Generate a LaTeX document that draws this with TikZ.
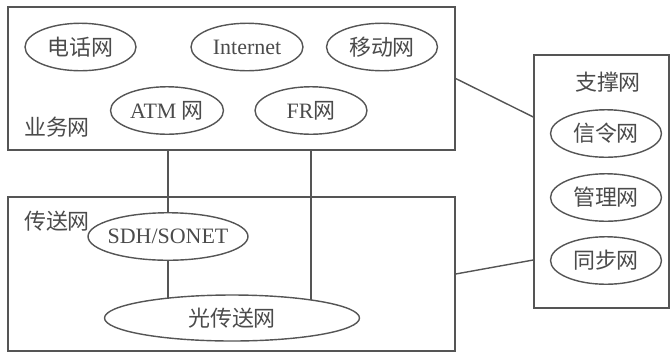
\documentclass[tikz,border=0pt]{standalone}
\usepackage{fontspec}
\setmainfont{Liberation Serif}
\newfontfamily\cjk{Noto Sans CJK SC}
\usetikzlibrary{shapes.geometric, backgrounds}
\definecolor{linegray}{RGB}{85,85,85}
\definecolor{textgray}{RGB}{75,75,75}

\begin{document}
\begin{tikzpicture}[x=0.02cm, y=-0.02cm,
    every node/.style={font=\fontsize{12.5}{15}\selectfont, text=textgray},
    net/.style={draw=linegray, ellipse, line width=0.8pt, fill=white, inner sep=0pt, minimum width=2.22cm, minimum height=0.95cm},
    area/.style={draw=linegray, line width=0.8pt, inner sep=0pt},
    link/.style={draw=linegray, line width=0.8pt}]
        \useasboundingbox (0,0) rectangle (672,356);

        % Outer boxes
        \node[area, minimum width=8.94cm, minimum height=2.86cm] (svc) at (231.5,78.5) {};
        \node[area, minimum width=8.94cm, minimum height=3.08cm] (trans) at (231.5,274) {};
        \node[area, minimum width=2.7cm, minimum height=5.06cm] (sup) at (601.5,181.5) {};

        % Box labels
        \node (svclbl) at (57,127) {\cjk 业务网};
        \node (translbl) at (57,221) {\cjk 传送网};
        \node (suplbl) at (608,82) {\cjk 支撑网};

        % Service networks
        \node[net] (tel) at (80.5,47) {\cjk 电话网};
        \node[net, minimum width=2.24cm] (inet) at (247,47) {Internet};
        \node[net] (mob) at (382,47) {\cjk 移动网};
        \node[net, minimum width=2.26cm] (atm) at (167,110.5) {ATM {\cjk 网}};
        \node[net, minimum width=2.24cm] (fr) at (311,110.5) {FR{\cjk 网}};

        % Transport networks
        \node[net, minimum width=3.2cm, inner xsep=-5pt] (sdh) at (168,236.5) {SDH/SONET};
        \node[net, minimum width=5.1cm, minimum height=0.92cm] (otn) at (232,318) {\cjk 光传送网};

        % Support networks
        \node[net] (sig) at (606,133.5) {\cjk 信令网};
        \node[net] (mgmt) at (606,197.5) {\cjk 管理网};
        \node[net] (sync) at (606,260.5) {\cjk 同步网};

        % Links
        \begin{scope}[on background layer]
        \draw[link] (sdh.north |- svc.south) -- (sdh.north);
        \draw[link] (sdh.south) -- (sdh.south |- otn.center);
        \draw[link] (fr.south |- svc.south) -- (fr.south |- otn.center);
        \end{scope}
        \draw[link] (svc.east) -- ([yshift=1.29cm]sup.west);
        \draw[link] (trans.east) -- ([yshift=-1.57cm]sup.west);

    \end{tikzpicture}
\end{document}
